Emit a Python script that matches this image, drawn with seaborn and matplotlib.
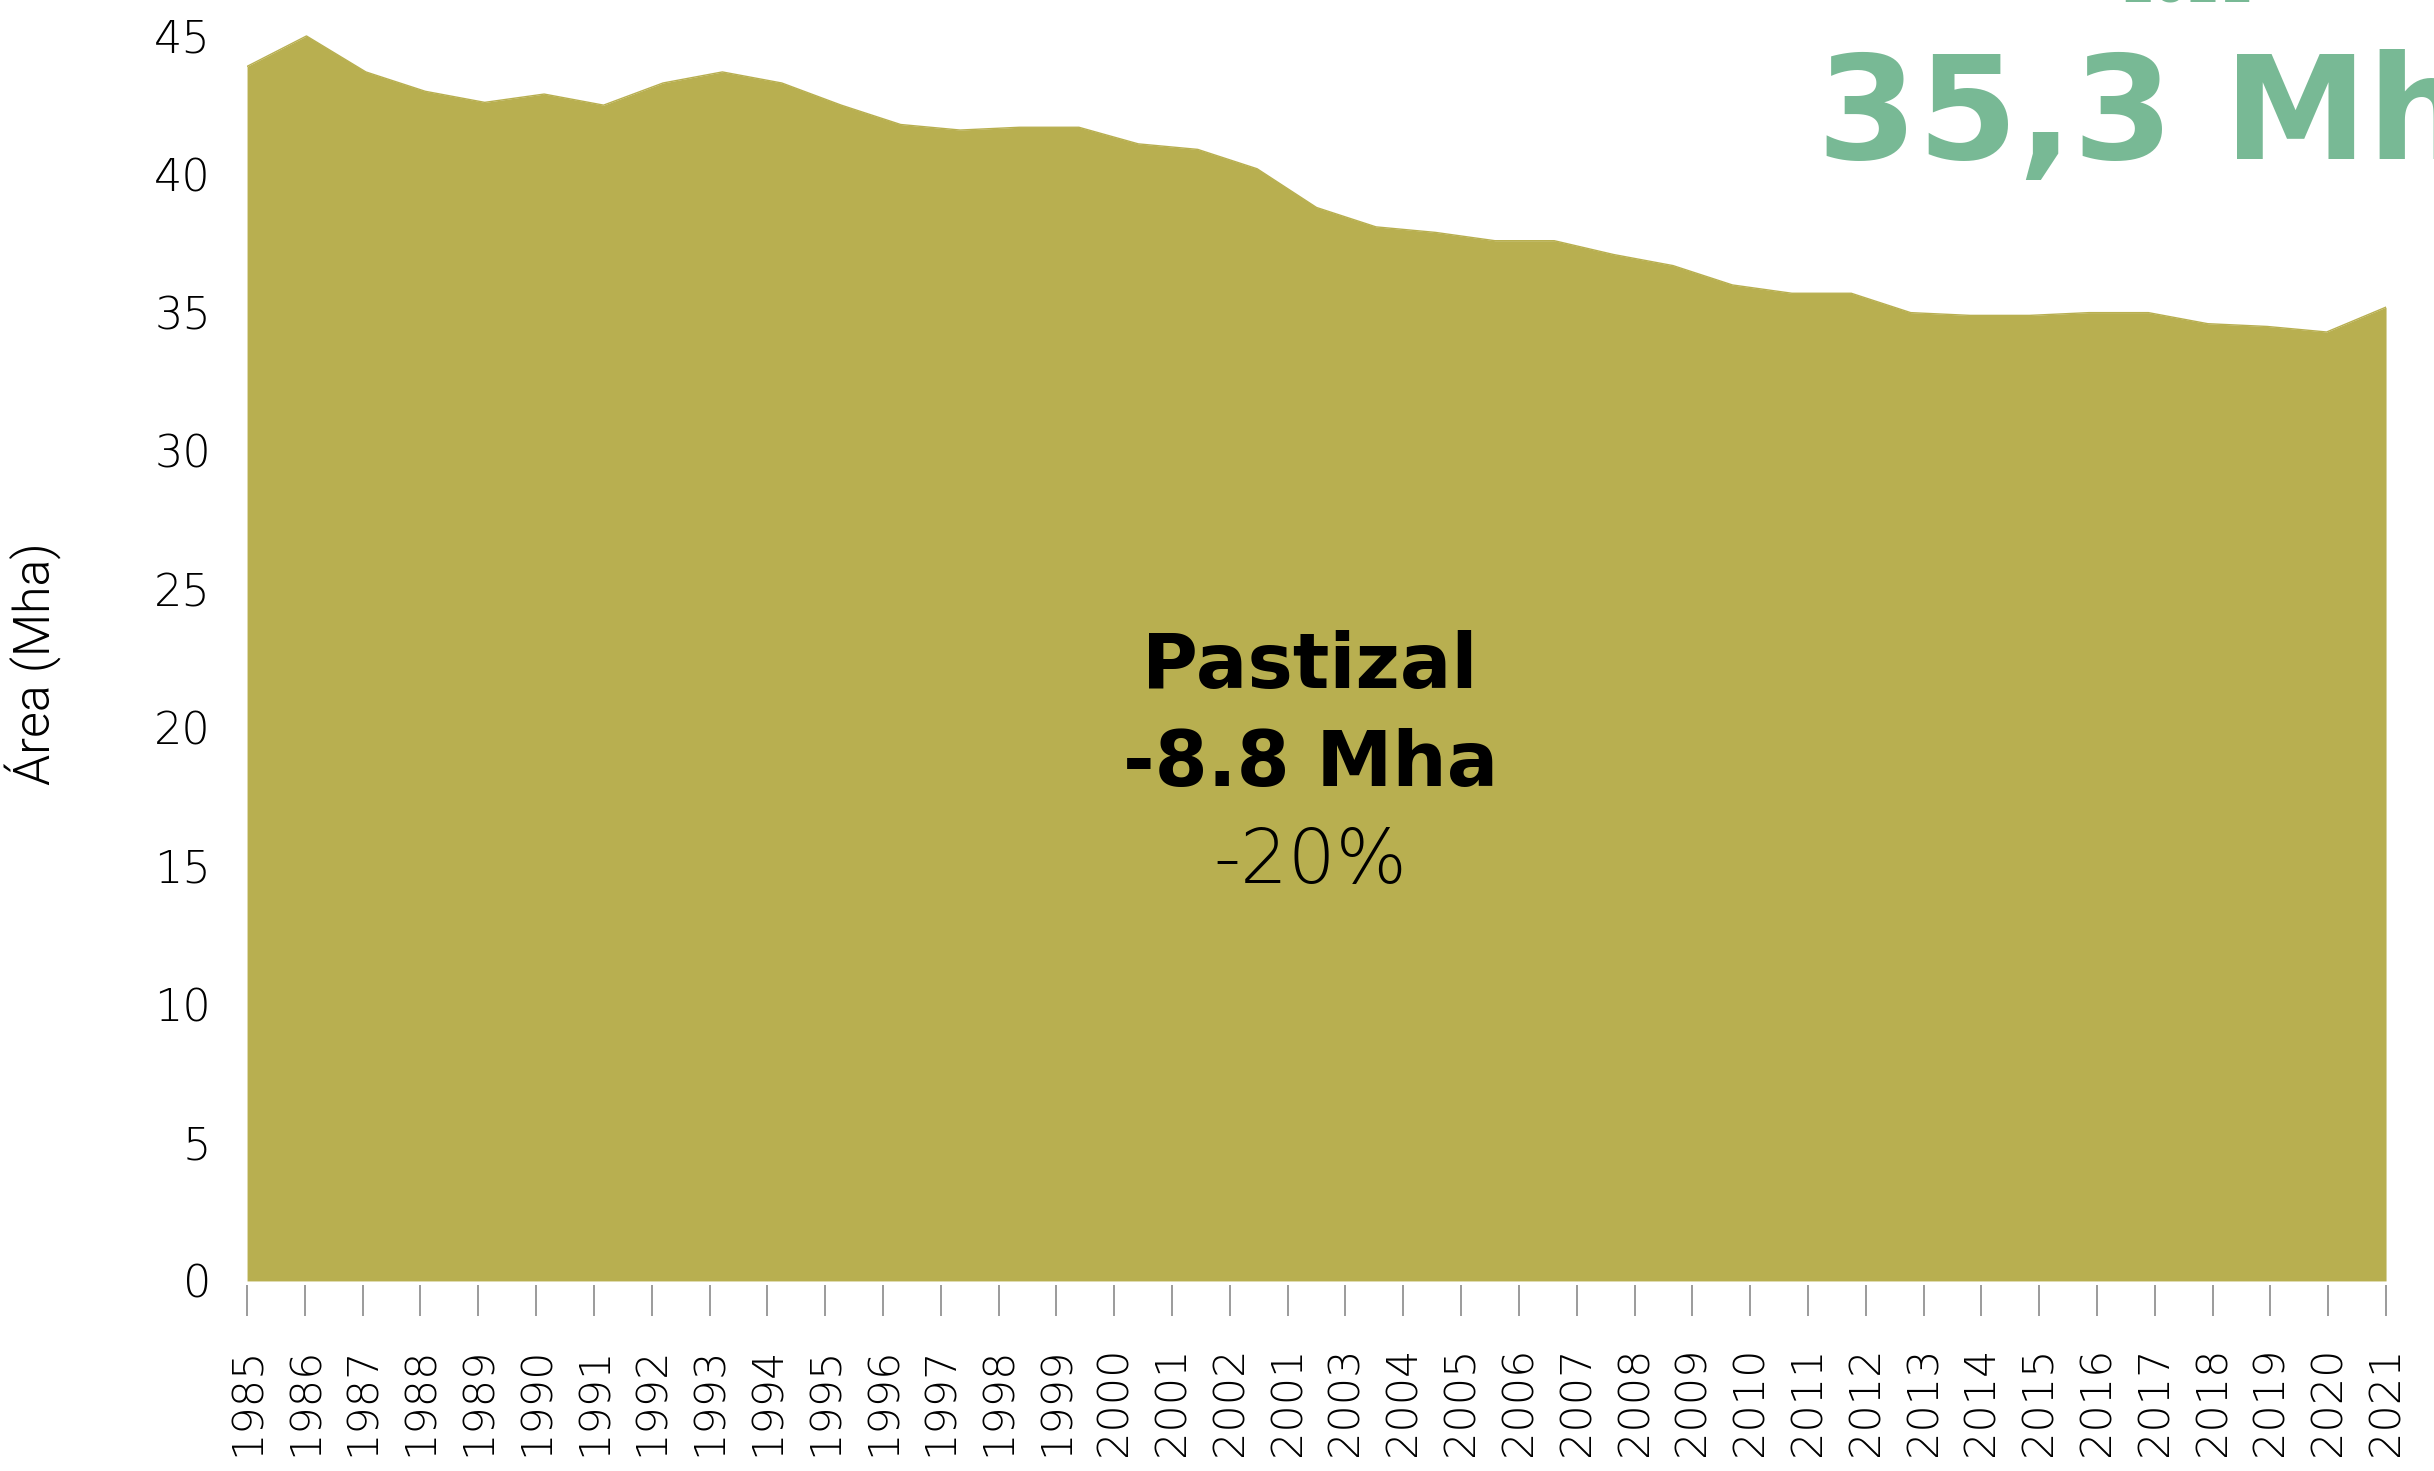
import numpy as np
import pandas as pd
import seaborn as sns
import matplotlib.pyplot as plt

# Pastizal area per year (Mha)
years = list(range(1985, 2022))
area = [43.9, 45.0, 43.7, 43.0, 42.6, 42.9, 42.5, 43.3, 43.7, 43.3,
        42.5, 41.8, 41.6, 41.7, 41.7, 41.1, 40.9, 40.2, 38.8, 38.1,
        37.9, 37.6, 37.6, 37.1, 36.7, 36.0, 35.7, 35.7, 35.0, 34.9,
        34.9, 35.0, 35.0, 34.6, 34.5, 34.3, 35.2]

# tick labels as printed in the original (includes the repeated "2001")
tick_labels = ["1985", "1986", "1987", "1988", "1989", "1990", "1991", "1992",
               "1993", "1994", "1995", "1996", "1997", "1998", "1999", "2000",
               "2001", "2002", "2001", "2003", "2004", "2005", "2006", "2007",
               "2008", "2009", "2010", "2011", "2012", "2013", "2014", "2015",
               "2016", "2017", "2018", "2019", "2020", "2021"]
y_ticks = [0, 5, 10, 15, 20, 25, 30, 35, 40, 45]

title_lines = ["Pastizal", "-8.8 Mha", "-20%"]
last_year_label = "2021"
last_value_label = "35,3 Mha"

fill_color = "#b8af50"
green = "#78b995"

df = pd.DataFrame({"idx": np.arange(len(years)), "year": years, "area": area})

sns.set_style("white")
plt.rcParams['font.family'] = ['DejaVu Sans']

fig = plt.figure(figsize=(24.34, 14.71), dpi=100)
ax = fig.add_axes([0.1015, 0.1292, 0.8788, 0.8708])

ax.fill_between(df["idx"], 0, df["area"], color=fill_color, linewidth=0)
sns.lineplot(data=df, x="idx", y="area", ax=ax, color=fill_color, linewidth=1)

ax.set_xlim(0, len(years) - 1)
ax.set_ylim(0, 46.3)

# spine position first: it resets the ticks
for s in ax.spines.values():
    s.set_visible(False)
ax.spines["bottom"].set_position(("outward", 3))

# ticks spread evenly over the same span as the data
tick_pos = np.linspace(0, len(years) - 1, len(tick_labels))
ax.set_xticks(tick_pos)
ax.set_xticklabels(tick_labels, rotation=90, fontsize=31, fontweight=200, color="black")
ax.set_yticks(y_ticks)
ax.set_yticklabels([str(v) for v in y_ticks], fontsize=32, fontweight=200, color="black")

ax.tick_params(axis="x", length=22, width=1.1, color="#808080", pad=22, bottom=True)
ax.tick_params(axis="y", length=0, pad=26)

ax.set_xlabel("")
ax.set_ylabel("Área (Mha)", fontsize=36, fontweight=300, color="black",
              family=["Roboto", "DejaVu Sans"])
ax.yaxis.set_label_coords(-0.0865, 0.4817)

ax.text(0.497, 0.4629, title_lines[0], transform=ax.transAxes, ha="center",
        va="baseline", fontsize=55, fontweight="bold", color="black")
ax.text(0.497, 0.3864, title_lines[1], transform=ax.transAxes, ha="center",
        va="baseline", fontsize=55, fontweight="bold", color="black")
ax.text(0.497, 0.3107, title_lines[2], transform=ax.transAxes, ha="center",
        va="baseline", fontsize=54, fontweight=200, color="black")

fig.text(0.8985, 0.998, last_year_label, ha="center", va="baseline",
         fontsize=34, fontweight="bold", color=green)
fig.text(0.7465, 0.892, last_value_label, ha="left", va="baseline",
         fontsize=104, fontweight="bold", color=green)

fig.savefig("out.png", dpi=100)
